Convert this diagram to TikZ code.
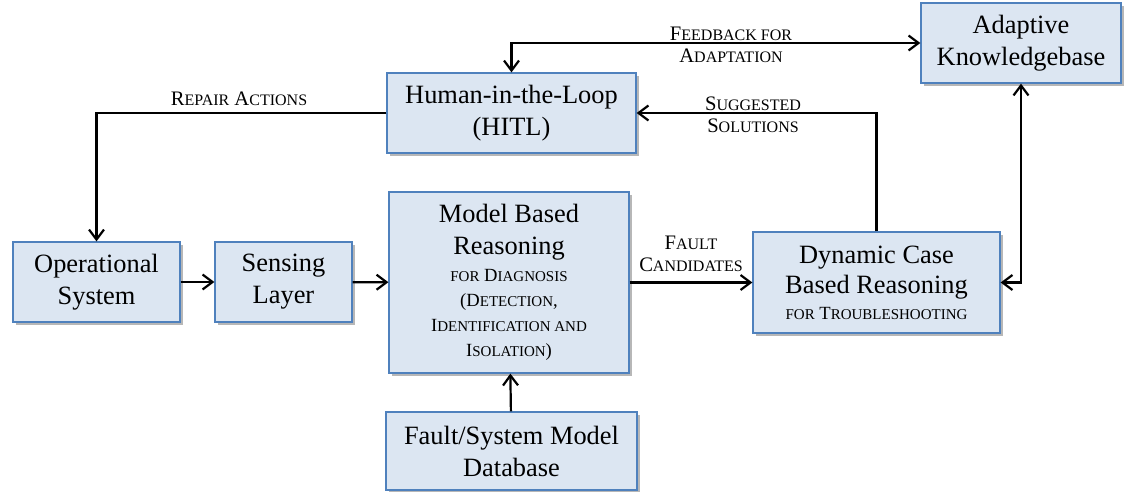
\documentclass[tikz,border=0pt]{standalone}
\usepackage{fontspec}
\setmainfont{Liberation Serif}
\usetikzlibrary{positioning, arrows.meta, shadows}
\definecolor{boxfill}{HTML}{DCE6F2}
\definecolor{boxline}{HTML}{4F81BD}
\newcommand{\lc}[1]{{\fontsize{7.5}{9}\selectfont #1}}
\newcommand{\tlc}[1]{{\fontsize{8}{9}\selectfont #1}}
\newcommand{\subline}[1]{{\fontsize{9.3}{11}\selectfont #1}}
\tikzset{
  >={Straight Barb[length=5pt, width=7.5pt]},
  block/.style={draw=boxline, fill=boxfill, line width=0.6pt, align=center,
    inner sep=0pt, font=\fontsize{13.2}{16}\selectfont,
    drop shadow={shadow xshift=1.3pt, shadow yshift=-1.3pt, opacity=0.4, fill=black!70}},
  link/.style={->, line width=1.1pt},
  tag/.style={font=\fontsize{10.3}{11}\selectfont, align=center, inner sep=0pt}
}

\begin{document}
\begin{tikzpicture}[x=0.5pt, y=-0.5pt]
  \useasboundingbox (0,0) rectangle (1130,492);

  % blocks
  \node[block, minimum width=100pt, minimum height=40pt] (akb) at (1021,43)
    {Adaptive\\Knowledgebase};
  \node[block, minimum width=124.5pt, minimum height=40pt] (hitl) at (511.5,113)
    {Human-in-the-Loop\\(HITL)};
  \node[block, minimum width=83.5pt, minimum height=40pt] (opsys) at (96.5,282)
    {Operational\\System};
  \node[block, minimum width=68.5pt, minimum height=40pt] (sense) at (283.5,282)
    {Sensing\\Layer};
  \node[block, minimum width=120pt, minimum height=90.5pt] (mbr) at (509,282.5)
    {Model Based\\Reasoning\\[-2.5pt]
     \subline{\lc{FOR} D\lc{IAGNOSIS}}\\[-3.5pt]
     \subline{(D\lc{ETECTION},}\\[-3.5pt]
     \subline{I\lc{DENTIFICATION AND}}\\[-3.5pt]
     \subline{I\lc{SOLATION})}};
  \node[block, minimum width=125.5pt, minimum height=39pt] (dbase) at (511.5,451)
    {Fault/System Model\\Database};
  \node[block, minimum width=123.5pt, minimum height=50.5pt] (dcbr) at (876.5,282.5)
    {Dynamic Case\\[-1pt]Based Reasoning\\[-3pt]
     \subline{\lc{FOR} T\lc{ROUBLESHOOTING}}};

  % connector labels
  \node[tag] (fbtag) at (731,45) {F\tlc{EEDBACK FOR}\\A\tlc{DAPTATION}};
  \node[tag] (ratag) at (239,99) {R\tlc{EPAIR} A\tlc{CTIONS}};
  \node[tag] (sstag) at (753,115) {S\tlc{UGGESTED}\\S\tlc{OLUTIONS}};
  \node[tag] (fctag) at (691,254) {F\tlc{AULT}\\C\tlc{ANDIDATES}};

  % connectors
  \draw[link] (opsys) -- (sense);
  \draw[link] (sense) -- (mbr);
  \draw[link] (mbr) -- (dcbr);
  \draw[link] (dbase) -- (mbr);
  \draw[link] (hitl) -| (opsys);
  \draw[link] (dcbr) |- (hitl);
  \draw[link, <->] (hitl) |- (akb);
  \draw[link, <->] (dcbr) -| (akb);
\end{tikzpicture}
\end{document}
